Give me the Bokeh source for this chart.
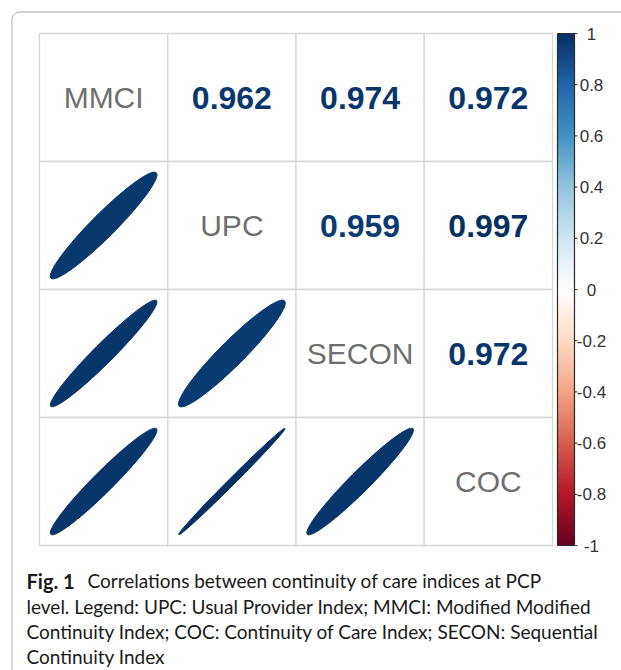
import numpy as np
from bokeh.plotting import figure
from bokeh.models import Range1d, LinearColorMapper, BoxAnnotation, ColumnDataSource
from bokeh.transform import linear_cmap
from bokeh.core.properties import value
from bokeh.embed import file_html
from bokeh.resources import INLINE

# ---------------- data ----------------
indices = ["MMCI", "UPC", "SECON", "COC"]
pair_a = ["MMCI", "MMCI", "MMCI", "UPC", "UPC", "SECON"]
pair_b = ["UPC", "SECON", "COC", "SECON", "COC", "COC"]
pair_r = [0.962, 0.974, 0.972, 0.959, 0.997, 0.972]
cbar_ticks = [1.0, 0.8, 0.6, 0.4, 0.2, 0.0, -0.2, -0.4, -0.6, -0.8, -1.0]
cbar_labels = ["1", "0.8", "0.6", "0.4", "0.2", "0", "-0.2", "-0.4", "-0.6", "-0.8", "-1"]
rdbu_stops = ["#67001F", "#B2182B", "#D6604D", "#F4A582", "#FDDBC7", "#FFFFFF",
              "#D1E5F0", "#92C5DE", "#4393C3", "#2166AC", "#053061"]
caption_bold = "Fig. 1"
caption_lines = [
    "Correlations between continuity of care indices at PCP",
    "level. Legend: UPC: Usual Provider Index; MMCI: Modified Modified",
    "Continuity Index; COC: Continuity of Care Index; SECON: Sequential",
    "Continuity Index",
]


def interp(stops, n):
    rgb = np.array([[int(s[i:i + 2], 16) for i in (1, 3, 5)] for s in stops], float)
    pos = np.linspace(0, 1, len(stops))
    t = np.linspace(0, 1, n)
    out = np.stack([np.interp(t, pos, rgb[:, k]) for k in range(3)], axis=1)
    return ["#%02x%02x%02x" % tuple(int(round(v)) for v in row) for row in out]


palette = interp(rdbu_stops, 256)
mapper = LinearColorMapper(palette=palette, low=-1, high=1)

# ---------------- figure ----------------
W, H = 621, 670
CW, CH = 128.25, 128.0
gx0, gy0 = 39, 33            # grid top-left on canvas
gy1 = gy0 + 4 * CH
x_range = Range1d(-gx0 / CW, -gx0 / CW + W / CW)
y_range = Range1d(-(H - gy1) / CH, 4 + gy0 / CH)

p = figure(width=W, height=H, x_range=x_range, y_range=y_range,
           output_backend="svg", toolbar_location=None, min_border=0,
           x_axis_location=None, y_axis_location=None,
           outline_line_color=None, background_fill_color="white")
p.grid.visible = False
p.extra_y_ranges = {"cb": Range1d(y_range.start / 2 - 1, y_range.end / 2 - 1)}

n = len(indices)
# grid cells
cx, cy = [], []
for r in range(n):
    for c in range(n):
        cx.append(c + 0.5)
        cy.append(n - 0.5 - r)
p.rect(x=cx, y=cy, width=1, height=1, fill_color="white",
       line_color="#d6d6d6", line_width=1.3)

# diagonal labels
p.text(x=[i + 0.5 for i in range(n)], y=[n - 0.5 - i for i in range(n)], text=indices,
       text_align="center", text_baseline="middle", text_color="#6f6f6f",
       text_font=value("Liberation Sans"), text_font_size="30px")

# upper triangle numbers, lower triangle ellipses
ux, uy, lx, ly, lw, lh = [], [], [], [], [], []
k = 0.83
for a, b, r in zip(pair_a, pair_b, pair_r):
    ia, ib = indices.index(a), indices.index(b)
    ux.append(ib + 0.5)
    uy.append(n - 0.5 - ia)
    lx.append(ia + 0.5)
    ly.append(n - 0.5 - ib)
    lw.append(k * np.sqrt(1 + r))
    lh.append(1.15 * k * np.sqrt(1 - r))
src_u = ColumnDataSource(dict(x=ux, y=uy, r=pair_r, t=["%.3f" % v for v in pair_r]))
src_l = ColumnDataSource(dict(x=lx, y=ly, r=pair_r, w=lw, h=lh))
cmap = linear_cmap("r", palette, -1, 1)
p.text(x="x", y="y", text="t", source=src_u, text_align="center", text_baseline="middle",
       text_color=cmap, text_font=value("Liberation Sans"), text_font_style="bold",
       text_font_size="32px")
p.ellipse(x="x", y="y", width="w", height="h", angle=np.pi / 4, source=src_l,
          fill_color=cmap, line_color=cmap, line_width=1)

# colour bar
bx0 = (557 - gx0) / CW
bx1 = (574 - gx0) / CW
grad = np.linspace(-1, 1, 256).reshape(256, 1)
p.image(image=[grad], x=bx0, y=-1, dw=bx1 - bx0, dh=2, color_mapper=mapper, y_range_name="cb")
p.quad(left=bx0, right=bx1, bottom=-1, top=1, fill_alpha=0, line_color="#2a2a2a",
       line_width=1.2, y_range_name="cb")
p.segment(x0=[bx1] * len(cbar_ticks), x1=[bx1 + 3 / CW] * len(cbar_ticks), y0=cbar_ticks,
          y1=cbar_ticks, line_color="#333333", line_width=1, y_range_name="cb")
p.text(x=[(591 - gx0) / CW] * len(cbar_ticks), y=cbar_ticks, text=cbar_labels,
       text_align="center", text_baseline="middle", text_color="#333333",
       text_font=value("Liberation Sans"), text_font_size="17px", y_range_name="cb")

# outer rounded box
p.add_layout(BoxAnnotation(left=(11.5 - gx0) / CW, top=4 + (gy0 - 11.5) / CH, right=20, bottom=-20,
                           border_radius=8, fill_alpha=0, line_color="#3a3a3a", line_width=1.3))

# caption
cap_x = (26 - gx0) / CW
base = [580, 605.5, 631, 656]
cap_y = [(gy1 - b) / CH for b in base]
p.text(x=[cap_x], y=[cap_y[0]], text=[caption_bold], text_align="left",
       text_baseline="alphabetic", text_color="#1a1a1a", text_font=value("Lato"),
       text_font_style="bold", text_font_size="20px")
p.text(x=[(87 - gx0) / CW] + [cap_x] * 3, y=cap_y, text=caption_lines, text_align="left",
       text_baseline="alphabetic", text_color="#1a1a1a", text_font=value("Lato"),
       text_font_size="19px")

open("out.html", "w").write(file_html(p, INLINE))
